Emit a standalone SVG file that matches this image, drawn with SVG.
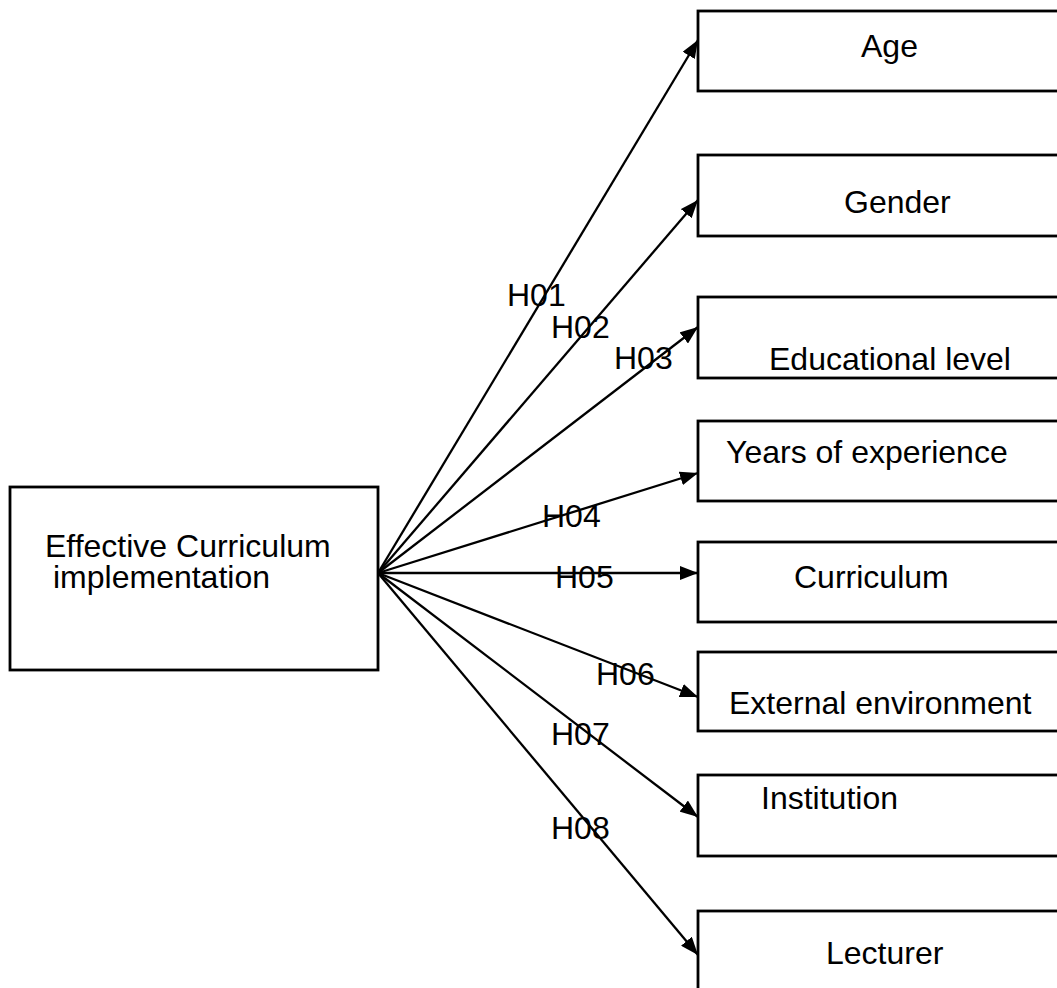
<svg xmlns="http://www.w3.org/2000/svg" width="1057" height="988" viewBox="0 0 1057 988">
<style>
.box{fill:#fff;stroke:#000;stroke-width:2.8}
.t{font-family:"Liberation Sans",Arial,sans-serif;font-size:32px;fill:#000}
.c{stroke:#000;stroke-width:2.3;fill:none;marker-end:url(#ah)}
</style>
<defs>
<marker id="ah" markerUnits="userSpaceOnUse" markerWidth="18" markerHeight="14" refX="18" refY="7" orient="auto">
<path d="M0,0 L18,7 L0,14 z" fill="#000"/>
</marker>
</defs>
<rect width="1057" height="988" fill="#fff"/>
<g id="connectors">
<line class="c" x1="378" y1="573" x2="698" y2="40"/>
<line class="c" x1="378" y1="573" x2="698" y2="200"/>
<line class="c" x1="378" y1="573" x2="698" y2="327"/>
<line class="c" x1="378" y1="573" x2="698" y2="473"/>
<line class="c" x1="378" y1="573" x2="698" y2="573"/>
<line class="c" x1="378" y1="573" x2="698" y2="697"/>
<line class="c" x1="378" y1="573" x2="698" y2="817"/>
<line class="c" x1="378" y1="573" x2="698" y2="955"/>
<text class="t" x="507" y="306">H01</text>
<text class="t" x="551" y="338">H02</text>
<text class="t" x="614" y="369">H03</text>
<text class="t" x="542" y="527">H04</text>
<text class="t" x="555" y="588">H05</text>
<text class="t" x="596" y="685">H06</text>
<text class="t" x="551" y="745">H07</text>
<text class="t" x="551" y="839">H08</text>
</g>
<g id="n-main">
<rect class="box" x="10" y="487" width="368" height="183"/>
<text class="t" x="45" y="557">Effective Curriculum</text>
<text class="t" x="53" y="588">implementation</text>
</g>
<g id="n-age">
<rect class="box" x="698" y="11" width="400" height="80"/>
<text class="t" x="861" y="57">Age</text>
</g>
<g id="n-gender">
<rect class="box" x="698" y="155" width="400" height="81"/>
<text class="t" x="844" y="213">Gender</text>
</g>
<g id="n-edu">
<rect class="box" x="698" y="297" width="400" height="81"/>
<text class="t" x="769" y="370">Educational level</text>
</g>
<g id="n-years">
<rect class="box" x="698" y="421" width="400" height="80"/>
<text class="t" x="726" y="463">Years of experience</text>
</g>
<g id="n-curr">
<rect class="box" x="698" y="542" width="400" height="80"/>
<text class="t" x="794" y="588">Curriculum</text>
</g>
<g id="n-ext">
<rect class="box" x="698" y="652" width="400" height="79"/>
<text class="t" x="729" y="714">External environment</text>
</g>
<g id="n-inst">
<rect class="box" x="698" y="775" width="400" height="81"/>
<text class="t" x="761" y="809">Institution</text>
</g>
<g id="n-lect">
<rect class="box" x="698" y="911" width="400" height="100"/>
<text class="t" x="826" y="964">Lecturer</text>
</g>
</svg>
